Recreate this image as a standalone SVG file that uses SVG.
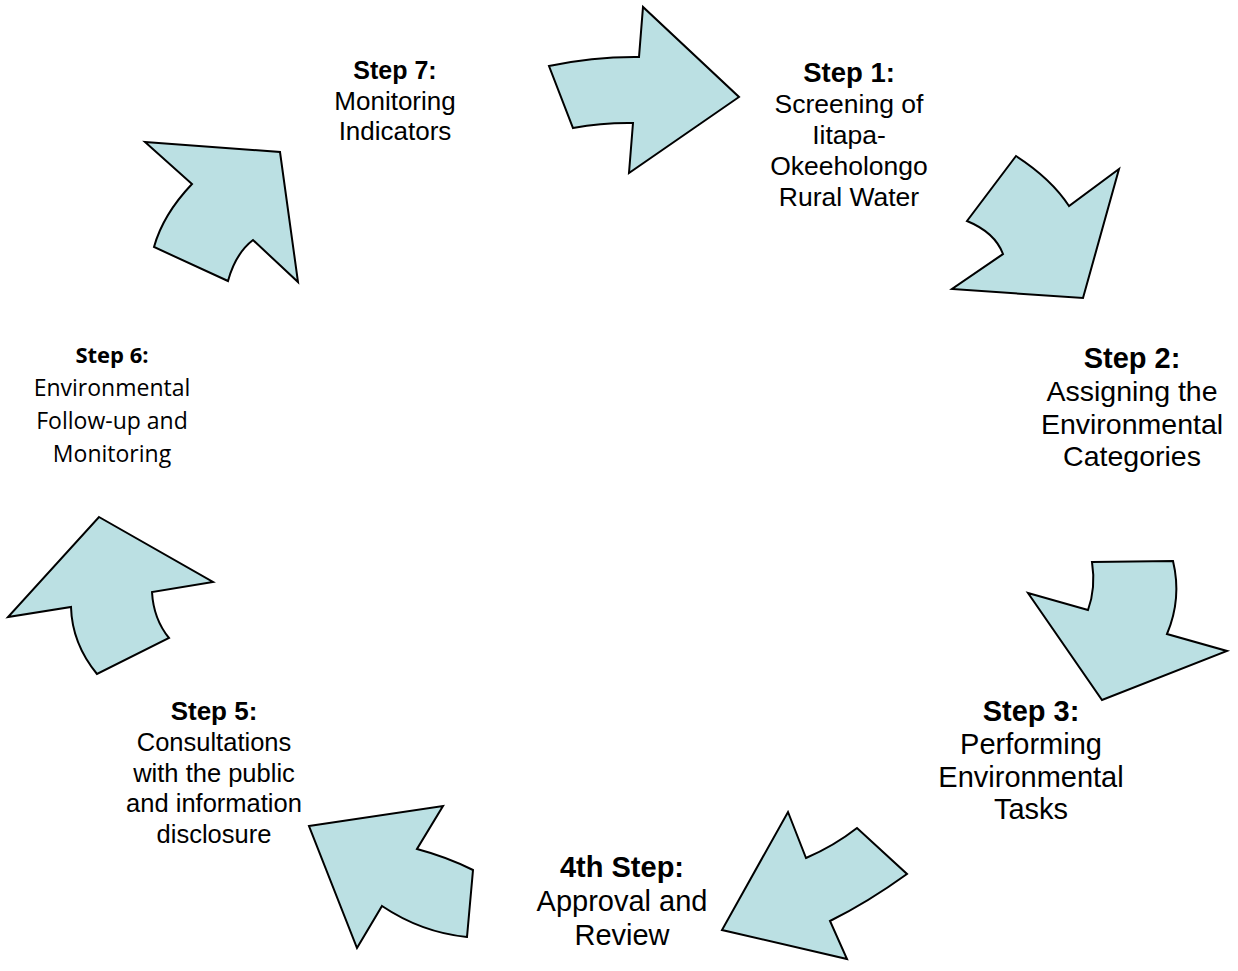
<svg xmlns="http://www.w3.org/2000/svg" width="1238" height="971" viewBox="0 0 1238 971">
<style>
.arrow{fill:#BBE0E3;stroke:#000;stroke-width:2;stroke-linejoin:miter}
text{font-family:"Liberation Sans",Arial,sans-serif;fill:#000;text-anchor:middle}
.b{font-weight:bold}
.c{font-family:"Open Sans","Noto Sans",sans-serif}
</style>
<rect width="1238" height="971" fill="#fff"/>
<g id="connectors">
<path id="arrow1" class="arrow" d="M549,66 Q594,56.5 639,57 L643,7 L739,97 L629,173 L633,123 Q603,122.5 573,128 Z"/>
<path id="arrow2" class="arrow" d="M1016,156 Q1051.5,179 1069,206 L1119,169 L1083,298 L952,289 L1003,254 Q995,232.5 967,221 Z"/>
<path id="arrow3" class="arrow" d="M1092,562 L1173,561 Q1182,598.5 1167,634 L1227,651 L1102,700 L1028,593 L1088,610 Q1096,588 1092,562 Z"/>
<path id="arrow4" class="arrow" d="M788,812 L806,858 Q834,846 857,828 L907,874 Q867.5,902.5 830,921 L847,959 L722,930 Z"/>
<path id="arrow5" class="arrow" d="M309,826 L443,806 L417,849 Q447,857 473,870 L467,937 Q421.5,932.5 382,906 L357,948 Z"/>
<path id="arrow6" class="arrow" d="M99,517 L213,582 L152,592 Q153.5,619 169,638 L97,674 Q72,643.5 71,607 L8,617 Z"/>
<path id="arrow7" class="arrow" d="M145,142 L280,152 L298,282 L253,240 Q235.5,253.5 228,281 L154,247 Q163,214.5 192,184 Z"/>
</g>
<g id="step7">
<text class="b" x="395" y="79" font-size="25">Step 7:</text>
<text x="395" y="110" font-size="26">Monitoring</text>
<text x="395" y="140" font-size="26">Indicators</text>
</g>
<g id="step1">
<text class="b" x="849" y="82" font-size="27.5">Step 1:</text>
<text x="849" y="113" font-size="26.5">Screening of</text>
<text x="849" y="144" font-size="26.5">Iitapa-</text>
<text x="849" y="175" font-size="26.5">Okeeholongo</text>
<text x="849" y="206" font-size="26.5">Rural Water</text>
</g>
<g id="step2">
<text class="b" x="1132" y="368" font-size="29">Step 2:</text>
<text x="1132" y="401" font-size="28.5">Assigning the</text>
<text x="1132" y="434" font-size="28.5">Environmental</text>
<text x="1132" y="466" font-size="28.5">Categories</text>
</g>
<g id="step3">
<text class="b" x="1031" y="721" font-size="29">Step 3:</text>
<text x="1031" y="754" font-size="29">Performing</text>
<text x="1031" y="787" font-size="29">Environmental</text>
<text x="1031" y="819" font-size="29">Tasks</text>
</g>
<g id="step4">
<text class="b" x="622" y="877" font-size="29">4th Step:</text>
<text x="622" y="911" font-size="29">Approval and</text>
<text x="622" y="945" font-size="29">Review</text>
</g>
<g id="step5">
<text class="b" x="214" y="720" font-size="26">Step 5:</text>
<text x="214" y="751" font-size="25.5">Consultations</text>
<text x="214" y="782" font-size="25.5">with the public</text>
<text x="214" y="812" font-size="25.5">and information</text>
<text x="214" y="843" font-size="25.5">disclosure</text>
</g>
<g id="step6">
<text class="c b" x="112" y="363" font-size="22">Step 6:</text>
<text class="c" x="112" y="396" font-size="23">Environmental</text>
<text class="c" x="112" y="429" font-size="23">Follow-up and</text>
<text class="c" x="112" y="462" font-size="23">Monitoring</text>
</g>
</svg>
